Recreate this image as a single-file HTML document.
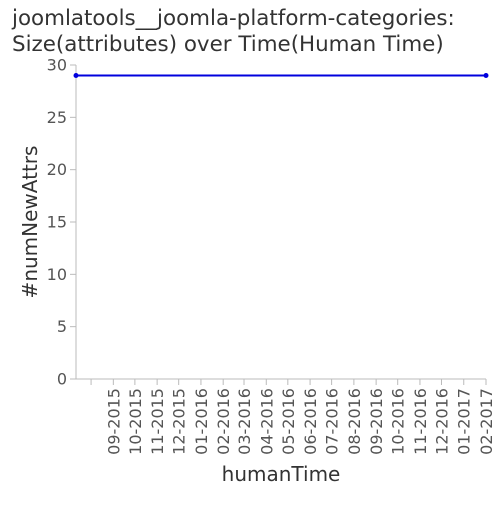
<!DOCTYPE html>
<html><head><meta charset="utf-8"><style>
body{margin:0;background:#fff}
svg{font-family:"DejaVu Sans","Liberation Sans",sans-serif}
</style></head><body>
<svg id="c" width="500" height="500">
<text x="12" y="25" font-size="21.4" fill="#333">joomlatools__joomla-platform-categories:</text>
<text x="12" y="51" font-size="21.4" fill="#333">Size(attributes) over Time(Human Time)</text>
<text transform="translate(37,222) rotate(-90)" text-anchor="middle" font-size="20" fill="#333">#numNewAttrs</text>
<text x="281" y="481" text-anchor="middle" font-size="20" fill="#333">humanTime</text>
<g id="axes"></g>
<g id="marks"></g>
</svg>
<script>
const dates = ["2015-07-11","2017-02-01"];
const values = [29, 29];
const yTicks = [0,5,10,15,20,25,30];
const xTickLabels = ["08-2015","09-2015","10-2015","11-2015","12-2015","01-2016","02-2016","03-2016","04-2016","05-2016","06-2016","07-2016","08-2016","09-2016","10-2016","11-2016","12-2016","01-2017","02-2017"];
const NS="http://www.w3.org/2000/svg";
const X0=76,X1=486,Y0=379,Y1=65;
function parseLabel(l){const [m,y]=l.split("-");return Date.UTC(+y,+m-1,1);}
function pd(s){const [y,m,d]=s.split("-");return Date.UTC(+y,+m-1,+d);}
const t0=pd(dates[0]),t1=pd(dates[dates.length-1]);
const xs=t=>X0+(t-t0)/(t1-t0)*(X1-X0);
const ys=v=>Y0-(v/30)*(Y0-Y1);
function mk(tag,at,parent){const e=document.createElementNS(NS,tag);for(const k in at)e.setAttribute(k,at[k]);parent.appendChild(e);return e;}
const ax=document.getElementById("axes"),mg=document.getElementById("marks");
let l=mk("line",{x1:X0,y1:Y0,x2:X1,y2:Y0,stroke:"#bbb"},ax);


l=mk("line",{x1:X0,y1:Y0,x2:X0,y2:Y1,stroke:"#bbb"},ax);


yTicks.forEach(v=>{const y=ys(v);
 const t=mk("line",{x1:X0-6,y1:y,x2:X0,y2:y,stroke:"#bbb"},ax);
 
 
 const tx=mk("text",{x:X0-9,y:y+5.5,"text-anchor":"end","font-size":"16",fill:"#555"},ax);
 tx.textContent=v;
 
 
});
xTickLabels.forEach((lab,i)=>{const x=xs(parseLabel(lab));
 const t=mk("line",{x1:x,y1:Y0,x2:x,y2:Y0+6,stroke:"#bbb"},ax);
 
 
 if(i>0){const tx=mk("text",{transform:`translate(${x+6},${Y0+9}) rotate(-90)`,"text-anchor":"end","font-size":"16",fill:"#555"},ax);
 tx.textContent=lab;
 
 }
});
const pts=dates.map((d,i)=>xs(pd(d))+","+ys(values[i])).join(" ");
const pl=mk("polyline",{points:pts,fill:"none",stroke:"#0000dd","stroke-width":"2"},mg);


dates.forEach((d,i)=>{const c=mk("circle",{cx:xs(pd(d)),cy:ys(values[i]),r:2.5,fill:"#0000dd"},mg);
 
 });
</script>
</body></html>
